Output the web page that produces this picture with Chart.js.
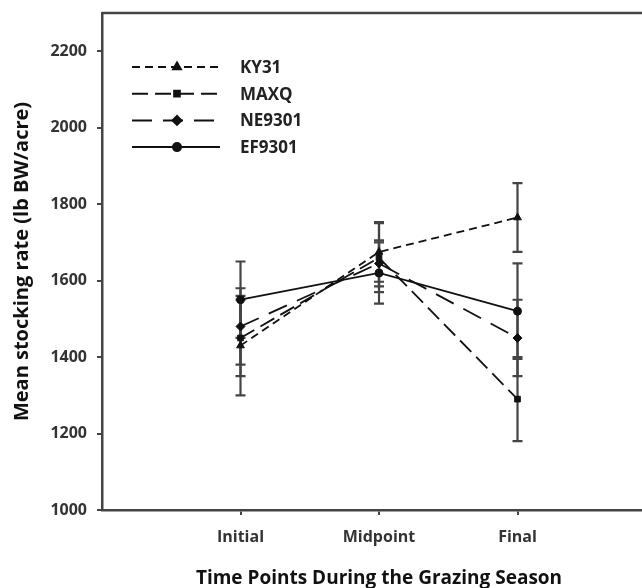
<!DOCTYPE html>
<html>
<head>
<meta charset="utf-8">
<script src="https://cdn.jsdelivr.net/npm/chart.js@4"></script>
<style>
  html, body { margin: 0; padding: 0; background: #fff; overflow: hidden; }
  #wrap { width: 642px; height: 588px; overflow: hidden; }
</style>
</head>
<body>
<div id="wrap"><canvas id="grafico" width="670" height="588"></canvas></div>
<script>
/*************************************************
 * DADOS
 *************************************************/
const categorias = ['Initial', 'Midpoint', 'Final'];
const series = ['KY31', 'MAXQ', 'NE9301', 'EF9301'];

const ky31 = [1430, 1675, 1765];
const ky31Err = [130, 78, 90];
const maxq = [1450, 1660, 1290];
const maxqErr = [100, 90, 110];
const ne9301 = [1480, 1645, 1450];
const ne9301Err = [100, 60, 100];
const ef9301 = [1550, 1620, 1520];
const ef9301Err = [100, 80, 125];

const yTicks = [1000, 1200, 1400, 1600, 1800, 2000, 2200];

/*************************************************
 * UTILIDADES
 *************************************************/
const FONTE = "'Open Sans', 'DejaVu Sans', sans-serif";
const COR = '#111';

function pontos(valores) {
  return valores.map((v, i) => ({ x: i + 1, y: v }));
}

function serie(label, valores, erros, estilo, dash, raio) {
  return {
    label,
    data: pontos(valores),
    erros,
    borderColor: COR,
    backgroundColor: COR,
    borderWidth: 1.8,
    borderDash: dash,
    pointStyle: estilo,
    pointRadius: raio,
    pointBorderWidth: 1,
    tension: 0
  };
}

/*************************************************
 * PLUGINS
 *************************************************/
const barrasErro = {
  id: 'barrasErro',
  beforeDatasetsDraw(chart) {
    const ctx = chart.ctx;
    const xs = chart.scales.x;
    const ys = chart.scales.y;
    ctx.save();
    ctx.strokeStyle = '#444';
    ctx.lineWidth = 2.2;
    chart.data.datasets.forEach(ds => {
      ds.data.forEach((p, i) => {
        const e = ds.erros[i];
        const x = xs.getPixelForValue(p.x);
        const top = ys.getPixelForValue(p.y + e);
        const bot = ys.getPixelForValue(p.y - e);
        ctx.beginPath();
        ctx.moveTo(x, top); ctx.lineTo(x, bot);
        ctx.moveTo(x - 5, top); ctx.lineTo(x + 5, top);
        ctx.moveTo(x - 5, bot); ctx.lineTo(x + 5, bot);
        ctx.stroke();
      });
    });
    ctx.restore();
  }
};

const moldura = {
  id: 'moldura',
  afterDraw(chart) {
    const { ctx, chartArea } = chart;
    ctx.save();
    ctx.strokeStyle = '#444';
    ctx.lineWidth = 2.5;
    ctx.beginPath();
    ctx.moveTo(chartArea.left, chartArea.top);
    ctx.lineTo(chartArea.right, chartArea.top);
    ctx.stroke();
    ctx.restore();
  }
};

const legenda = {
  id: 'legenda',
  afterDraw(chart) {
    const ctx = chart.ctx;
    const x0 = chart.chartArea.left + 30;
    const y0 = chart.chartArea.top + 54;
    ctx.save();
    chart.data.datasets.forEach((ds, i) => {
      const y = y0 + i * 26.7;
      ctx.strokeStyle = COR;
      ctx.lineWidth = 2;
      ctx.setLineDash(ds.borderDash);
      ctx.beginPath();
      ctx.moveTo(x0, y);
      ctx.lineTo(x0 + 88, y);
      ctx.stroke();
      ctx.setLineDash([]);
      ctx.fillStyle = COR;
      Chart.helpers.drawPoint(ctx, {
        pointStyle: ds.pointStyle,
        radius: ds.pointRadius,
        rotation: 0,
        borderWidth: 1
      }, x0 + 45, y);
      ctx.fillStyle = '#222';
      ctx.font = 'bold 17px ' + FONTE;
      ctx.textBaseline = 'middle';
      ctx.fillText(ds.label, x0 + 108, y + 1);
    });
    ctx.restore();
  }
};

/*************************************************
 * GRÁFICO
 *************************************************/
new Chart(document.getElementById('grafico').getContext('2d'), {
  type: 'line',
  data: {
    datasets: [
      serie(series[0], ky31, ky31Err, 'triangle', [8, 5], 4.5),
      serie(series[1], maxq, maxqErr, 'rect', [16, 7], 4),
      serie(series[2], ne9301, ne9301Err, 'rectRot', [20, 11], 4.5),
      serie(series[3], ef9301, ef9301Err, 'circle', [], 4)
    ]
  },
  options: {
    responsive: false,
    animation: false,
    devicePixelRatio: 1,
    layout: { padding: { top: 13, right: 14, left: 0, bottom: 0 } },
    plugins: {
      legend: { display: false },
      tooltip: { enabled: false }
    },
    scales: {
      x: {
        type: 'linear',
        min: 0,
        max: 4,
        afterBuildTicks: s => { s.ticks = [1, 2, 3].map(v => ({ value: v })); },
        afterFit: s => { s.height = 78; s.paddingLeft = 0; s.paddingRight = 0; },
        grid: { display: true, drawOnChartArea: false, drawTicks: true, tickLength: 5, color: '#444', lineWidth: 2 },
        border: { display: true, color: '#444', width: 2.5 },
        ticks: {
          padding: 13,
          color: '#333',
          font: { family: FONTE, size: 16, weight: 'bold' },
          callback: v => categorias[v - 1]
        },
        title: {
          display: true,
          text: 'Time Points During the Grazing Season',
          color: '#111',
          font: { family: FONTE, size: 19, weight: 'bold' },
          padding: { top: 0, bottom: -2 }
        }
      },
      y: {
        min: 1000,
        max: 2300,
        afterBuildTicks: s => { s.ticks = yTicks.map(v => ({ value: v })); },
        afterFit: s => { s.width = 102; s.paddingTop = 0; s.paddingBottom = 0; },
        grid: { display: true, drawOnChartArea: false, drawTicks: true, tickLength: 5, color: '#444', lineWidth: 2 },
        border: { display: true, color: '#444', width: 2.5 },
        ticks: {
          padding: 10,
          color: '#333',
          font: { family: FONTE, size: 16, weight: 'bold' },
          callback: v => String(v)
        },
        title: {
          display: true,
          text: 'Mean stocking rate (lb BW/acre)',
          color: '#111',
          font: { family: FONTE, size: 20, weight: 'bold' },
          padding: { top: 10, bottom: 0 }
        }
      }
    }
  },
  plugins: [barrasErro, moldura, legenda]
});
</script>
</body>
</html>
